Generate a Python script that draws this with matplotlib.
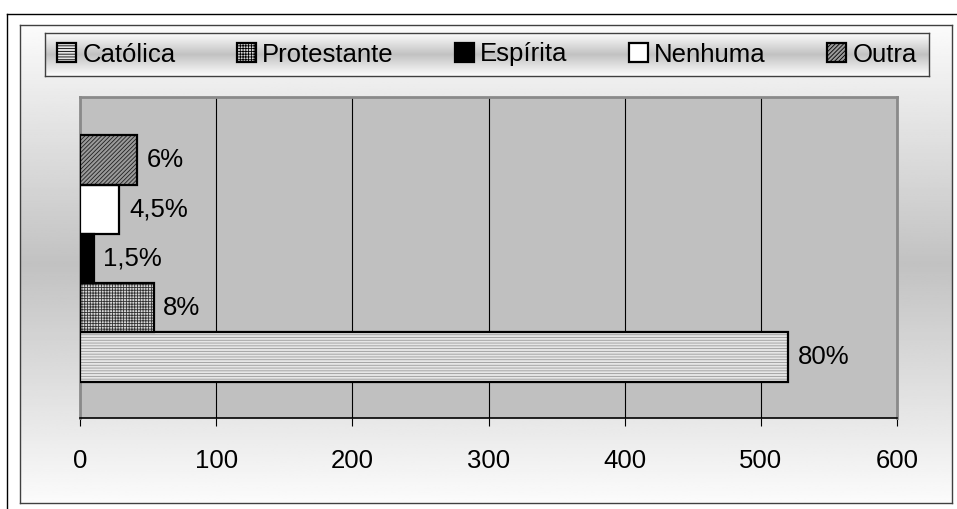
import numpy as np
import matplotlib
matplotlib.use("Agg")
import matplotlib.pyplot as plt
from matplotlib.patches import Patch
from matplotlib.lines import Line2D

plt.rcParams["font.family"] = ["Liberation Sans", "DejaVu Sans"]
plt.rcParams["hatch.linewidth"] = 0.6

# data
series = ["Católica", "Protestante", "Espírita", "Nenhuma", "Outra"]
values = [520, 54, 10, 29, 42]
labels = ["80%", "8%", "1,5%", "4,5%", "6%"]
xticks = [0, 100, 200, 300, 400, 500, 600]

# fill / hatch styles per series
faces = ["#e6e6e6", "#d8d8d8", "#000000", "#ffffff", "#9a9a9a"]
hatches = ["------", "++++++", None, None, "////////"]
hatch_cols = ["#9a9a9a", "#333333", "#000000", "#ffffff", "#202020"]

W, H = 957, 509
fig = plt.figure(figsize=(W / 100, H / 100), dpi=100)
fig.patch.set_facecolor("white")


def px_rect(x0, y0, x1, y1):
    return [x0 / W, 1 - y1 / H, (x1 - x0) / W, (y1 - y0) / H]


def grad(lo, hi):
    t = np.linspace(0, 1, 256)
    v = hi - (hi - lo) * (1 - np.abs(2 * t - 1))
    return np.tile(v[:, None], (1, 2))


# outer frame
fig.add_artist(Line2D([7 / W, 7 / W], [0, 1 - 14 / H], color="black", lw=1.0))
fig.add_artist(Line2D([7 / W, 1], [1 - 14 / H, 1 - 14 / H], color="black", lw=1.0))

# chart area with vertical gradient
bg = fig.add_axes(px_rect(20, 25, 952, 503))
bg.imshow(grad(0.76, 0.985), cmap="gray", vmin=0, vmax=1, aspect="auto",
          extent=(0, 1, 0, 1))
bg.set_xticks([])
bg.set_yticks([])
for s in bg.spines.values():
    s.set_color("#404040")
    s.set_linewidth(1.0)

# legend box with its own gradient
lg = fig.add_axes(px_rect(45, 33, 929, 76))
lg.imshow(grad(0.76, 0.99), cmap="gray", vmin=0, vmax=1, aspect="auto",
          extent=(0, 1, 0, 1))
lg.set_xticks([])
lg.set_yticks([])
for s in lg.spines.values():
    s.set_color("#404040")
    s.set_linewidth(1.0)

# plot area
ax = fig.add_axes(px_rect(80, 97, 897, 418))
ax.set_facecolor("#c0c0c0")
ypos = np.arange(len(series))
for i in range(len(series)):
    ax.barh(ypos[i], values[i], height=1.0, color=faces[i],
            hatch=hatches[i], edgecolor=hatch_cols[i], linewidth=0, zorder=3)
    ax.barh(ypos[i], values[i], height=1.0, fill=False,
            edgecolor="black", linewidth=1.6, zorder=4)
    ax.text(values[i] + 7, ypos[i], labels[i], va="center", ha="left",
            fontsize=18.5, zorder=5)

ax.set_xlim(0, 600)
ax.set_ylim(-1.235, 5.276)
ax.set_xticks(xticks)
ax.set_xticklabels([str(t) for t in xticks], fontsize=18.5)
ax.set_yticks([])
ax.grid(axis="x", color="black", linewidth=0.8, zorder=1)
ax.tick_params(axis="x", length=6, width=0.8, pad=16, direction="out")
for side in ("left", "top", "right"):
    ax.spines[side].set_color("#8a8a8a")
    ax.spines[side].set_linewidth(2.0)
ax.spines["bottom"].set_color("black")
ax.spines["bottom"].set_linewidth(1.2)

handles = [Patch(facecolor=faces[i], hatch=hatches[i], edgecolor="black",
                 linewidth=1.6, label=series[i]) for i in range(len(series))]
lg.legend(handles=handles, loc="center", ncol=5, frameon=False, fontsize=18.5,
          handlelength=0.72, handleheight=0.72, handletextpad=0.25,
          borderaxespad=0.0, columnspacing=2.4)

fig.savefig("out.png", dpi=100)
